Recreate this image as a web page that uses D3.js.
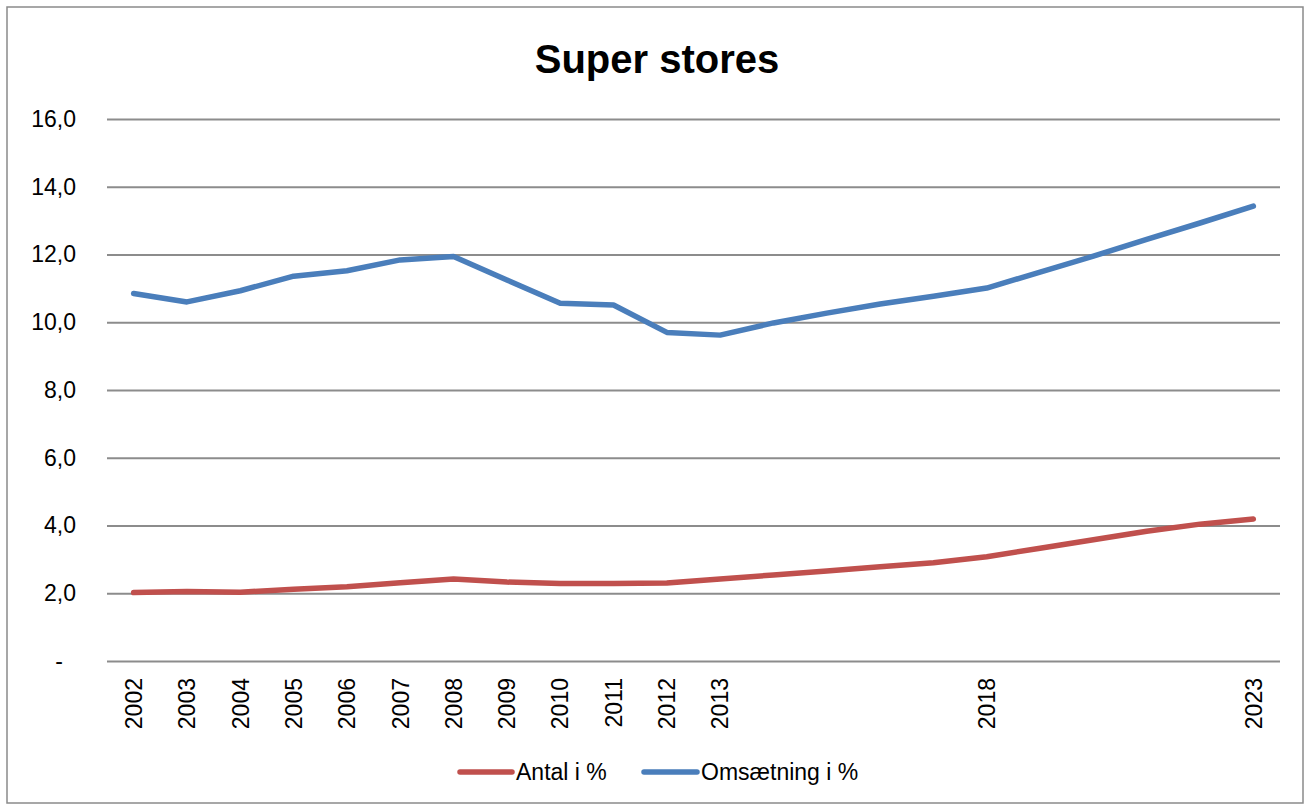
<!DOCTYPE html>
<html>
<head>
<meta charset="utf-8">
<script src="https://cdn.jsdelivr.net/npm/d3@7"></script>
<style>
  html, body { margin: 0; padding: 0; background: #fff; }
  svg { display: block; }
  text { font-family: "Liberation Sans", Arial, sans-serif; fill: #000; }
</style>
</head>
<body>
<svg id="chart" width="1310" height="808"></svg>
<script>
const title = "Super stores";
const years = ["2002","2003","2004","2005","2006","2007","2008","2009","2010","2011","2012","2013",
               "2014","2015","2016","2017","2018","2019","2020","2021","2022","2023"];
const yearLabels = ["2002","2003","2004","2005","2006","2007","2008","2009","2010","2011","2012","2013",
                    "","","","","2018","","","","","2023"];
const antal = [2.02, 2.05, 2.03, 2.12, 2.19, 2.31, 2.42, 2.33, 2.29, 2.29, 2.30, 2.42,
               2.54, 2.66, 2.78, 2.90, 3.08, 3.33, 3.58, 3.83, 4.04, 4.19];
const omsaetning = [10.85, 10.60, 10.93, 11.36, 11.52, 11.84, 11.94, 11.25, 10.56, 10.51, 9.70, 9.62,
                    9.98, 10.27, 10.54, 10.77, 11.01, 11.48, 11.95, 12.45, 12.93, 13.43];
const yTicks = [0, 2, 4, 6, 8, 10, 12, 14, 16];
const seriesNames = ["Antal i %", "Omsætning i %"];
const seriesColors = ["#C0504D", "#4A7EBB"];

const svg = d3.select("#chart");
const W = 1310, H = 808;
const plot = {left: 107, right: 1280, top: 119, bottom: 661};

// outer border
svg.append("rect").attr("x", 7).attr("y", 7).attr("width", W - 14).attr("height", H - 12)
  .attr("fill", "#fff").attr("stroke", "#8a8a8a").attr("stroke-width", 1.5);

// title
svg.append("text").attr("x", 657).attr("y", 73).attr("text-anchor", "middle")
  .style("font-size", "40px").style("font-weight", "bold").text(title);

const x = d3.scaleBand().domain(years).range([plot.left, plot.right]).padding(0);
const y = d3.scaleLinear().domain([0, 16]).range([plot.bottom, plot.top]);
const xc = d => x(d) + x.bandwidth() / 2;

// gridlines + y axis
const yAxis = d3.axisLeft(y).tickValues(yTicks)
  .tickSize(-(plot.right - plot.left)).tickPadding(31)
  .tickFormat(d => d === 0 ? "-" : d3.format(".1f")(d).replace(".", ","));
const gy = svg.append("g").attr("transform", `translate(${plot.left},0)`).call(yAxis);
gy.select(".domain").remove();
gy.selectAll(".tick line").attr("stroke", "#8c8c8c").attr("stroke-width", 2);
gy.selectAll(".tick text").style("font-size", "23px").attr("fill", "#000")
  .attr("dx", d => d === 0 ? -13 : 0);

// x axis labels
const xAxis = d3.axisBottom(x).tickSize(0).tickFormat((d, i) => yearLabels[i]);
const gx = svg.append("g").attr("transform", `translate(0,${plot.bottom})`).call(xAxis);
gx.select(".domain").remove();
gx.selectAll(".tick text").style("font-size", "23px").attr("fill", "#000")
  .attr("text-anchor", "end")
  .attr("transform", "translate(0,17) rotate(-90)")
  .attr("x", 0).attr("y", 0).attr("dy", "0.36em");

// lines
const line = d3.line().x((d, i) => xc(years[i])).y(d => y(d));
[antal, omsaetning].forEach((s, k) => {
  svg.append("path").datum(s).attr("d", line)
    .attr("fill", "none").attr("stroke", seriesColors[k]).attr("stroke-width", 5.5)
    .attr("stroke-linecap", "round").attr("stroke-linejoin", "round");
});

// legend
const legend = [{x0: 460, x1: 512, tx: 516}, {x0: 644, x1: 697, tx: 701}];
legend.forEach((p, k) => {
  svg.append("line").attr("x1", p.x0).attr("x2", p.x1).attr("y1", 772).attr("y2", 772)
    .attr("stroke", seriesColors[k]).attr("stroke-width", 5.5).attr("stroke-linecap", "round");
  svg.append("text").attr("x", p.tx).attr("y", 780).style("font-size", "23px").text(seriesNames[k]);
});
</script>
</body>
</html>
